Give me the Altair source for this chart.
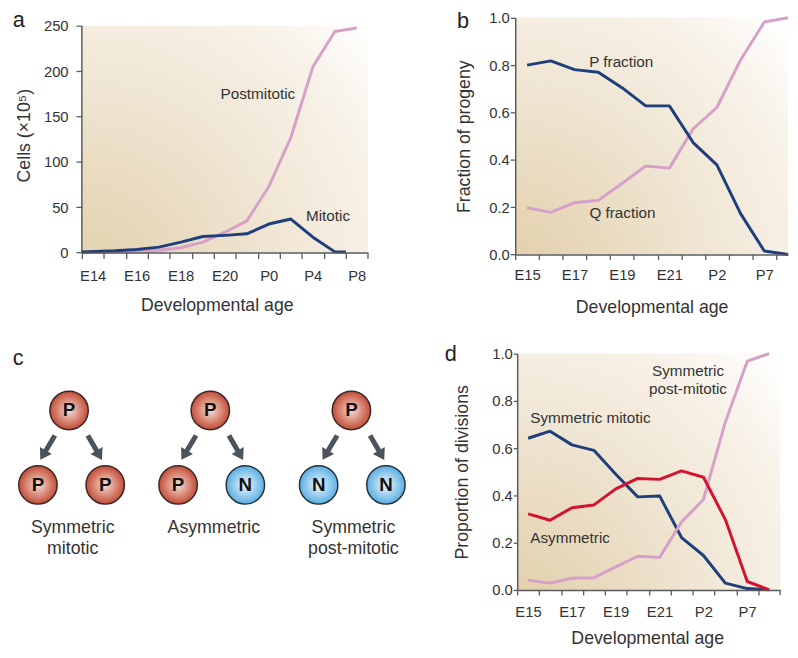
import altair as alt
import pandas as pd

FONT = "Liberation Sans"
TXT = "#333333"
AXC = "#5a5a5c"
BLUE = "#1f3e7c"
PINK = "#d6a0c8"
RED = "#d5122f"

# ---------------- panel a data ----------------
a_labels = ["E14", "", "E16", "", "E18", "", "E20", "", "P0", "", "P4", "", "P8", ""]
post_x = [0, 1.5, 2.5, 3.5, 4.5, 5.5, 6.5, 7.5, 8.5, 9.5, 10.5, 11.5, 12.5]
post_y = [0, 0.5, 1, 2.5, 5.4, 11.6, 22.5, 35, 73, 127, 205, 244, 248]
mito_x = [0, 1.5, 2.5, 3.5, 4.5, 5.5, 6.5, 7.5, 8.5, 9.5, 10.5, 11.5, 12]
mito_y = [0.7, 2, 3.5, 6, 11.6, 17.8, 19, 20.7, 31.5, 37, 17, 0.8, 0.6]

# ---------------- panel b data ----------------
b_labels = ["E15", "", "E17", "", "E19", "", "E21", "", "P2", "", "P7", ""]
b_x = [0.5, 1.5, 2.5, 3.5, 4.5, 5.5, 6.5, 7.5, 8.5, 9.5, 10.5, 11.5]
p_frac = [0.80, 0.818, 0.781, 0.77, 0.705, 0.628, 0.628, 0.473, 0.379, 0.173, 0.015, 0.0]
q_frac = [0.198, 0.178, 0.219, 0.229, 0.30, 0.374, 0.365, 0.531, 0.621, 0.822, 0.982, 1.0]

# ---------------- panel d data ----------------
d_labels = ["E15", "", "E17", "", "E19", "", "E21", "", "P2", "", "P7", ""]
d_x = [0.5, 1.5, 2.5, 3.5, 4.5, 5.5, 6.5, 7.5, 8.5, 9.5, 10.5, 11.5]
sym_mitotic = [0.642, 0.672, 0.614, 0.591, 0.49, 0.394, 0.398, 0.222, 0.146, 0.029, 0.006, 0.001]
asymmetric = [0.322, 0.295, 0.348, 0.36, 0.428, 0.472, 0.468, 0.504, 0.477, 0.298, 0.036, 0.001]
sym_postmitotic = [0.041, 0.029, 0.05, 0.052, 0.098, 0.143, 0.138, 0.288, 0.383, 0.711, 0.968, 1.0]

# ---------------- panel c diagram data ----------------
node_x = [-13.0, -44.6, 23.7, 130.4, 97.7, 166.0, 273.7, 240.4, 308.7]
node_y = [57.7, 133.3, 133.3, 57.7, 133.3, 133.3, 57.7, 133.3, 133.3]
node_kind = ["P", "P", "P", "P", "P", "N", "P", "N", "N"]
arrow_x = [-34.8, 13.2, 108.5, 156.5, 251.8, 299.8]
arrow_y = [95.5, 95.5, 95.5, 95.5, 95.5, 95.5]
arrow_angle = [31, 330, 31, 330, 31, 330]
clabel_text = ["Symmetric", "mitotic", "Asymmetric", "Symmetric", "post-mitotic"]
clabel_x = [-9.3, -9.3, 134.0, 275.7, 275.7]
clabel_y = [177.0, 198.7, 177.0, 177.0, 198.7]

BG = {
    "gradient": "radial",
    "x1": 0, "y1": 1, "r1": 0,
    "x2": 0, "y2": 1, "r2": 1.35,
    "stops": [
        {"offset": 0, "color": "#e2cfaa"},
        {"offset": 0.45, "color": "#eee3cf"},
        {"offset": 0.78, "color": "#f7f1e7"},
        {"offset": 1, "color": "#ffffff"},
    ],
}
RED_GRAD = {
    "gradient": "radial",
    "x1": 0.5, "y1": 0.5, "r1": 0, "x2": 0.5, "y2": 0.5, "r2": 0.5,
    "stops": [{"offset": 0, "color": "#f7ddd2"}, {"offset": 1, "color": "#c24c37"}],
}
BLUE_GRAD = {
    "gradient": "radial",
    "x1": 0.5, "y1": 0.5, "r1": 0, "x2": 0.5, "y2": 0.5, "r2": 0.5,
    "stops": [{"offset": 0, "color": "#f0f8fd"}, {"offset": 1, "color": "#5aaee2"}],
}
ARROW = "M-0.16,-0.9L0.16,-0.9L0.16,0.21L0.44,0.21L0,0.9L-0.44,0.21L-0.16,0.21Z"


def label_expr(labels):
    return "[" + ",".join("'" + s + "'" for s in labels) + "][datum.value]"


def x_axis(labels, label_offset, tick, pad, title_pad, title_x=None):
    kw = dict(
        values=list(range(len(labels))), labelExpr=label_expr(labels),
        labelOffset=label_offset, tickSize=tick, labelPadding=pad, grid=False,
        labelFlush=False, labelOverlap=False, domainColor=AXC, tickColor=AXC,
        domainWidth=1.5, tickWidth=1.3, labelColor=TXT, labelFont=FONT,
        labelFontSize=15, title="Developmental age", titleFont=FONT,
        titleFontSize=18, titleFontWeight="normal", titleColor=TXT,
        titlePadding=title_pad, zindex=2,
    )
    if title_x is not None:
        kw["titleX"] = title_x
    return alt.Axis(**kw)


def y_axis(values, title, tick, pad, title_pad, fmt, domain=True):
    return alt.Axis(
        values=values, format=fmt, tickSize=tick, labelPadding=pad, grid=False,
        domain=domain, domainColor=AXC, tickColor=AXC, domainWidth=1.5,
        tickWidth=1.3, labelColor=TXT, labelFont=FONT, labelFontSize=15,
        title=title, titleFont=FONT, titleFontSize=18, titleFontWeight="normal",
        titleColor=TXT, titlePadding=title_pad, zindex=2,
    )


class Panel:
    def __init__(self, xs, ys, xax, yax):
        self.xs, self.ys, self.xax, self.yax = xs, ys, xax, yax

    def X(self, f="x:Q"):
        if self.xax is None:
            return alt.X(f, scale=self.xs, axis=None)
        return alt.X(f, scale=self.xs, axis=self.xax)

    def Y(self, f="y:Q"):
        if self.yax is None:
            return alt.Y(f, scale=self.ys, axis=None)
        return alt.Y(f, scale=self.ys, axis=self.yax)

    def text(self, df, size=15, align="center", baseline="middle", weight="normal", color=TXT):
        return alt.Chart(df).mark_text(
            font=FONT, fontSize=size, align=align, baseline=baseline,
            fontWeight=weight, color=color,
        ).encode(x=self.X(), y=self.Y(), text="t:N")

    def line(self, xv, yv, color):
        df = pd.DataFrame({"x": xv, "y": yv, "o": list(range(len(xv)))})
        return alt.Chart(df).mark_line(color=color, strokeWidth=3, strokeJoin="round").encode(
            x=self.X(), y=self.Y(), order="o:Q"
        )

    def bg(self, x0, x1, y0, y1):
        df = pd.DataFrame({"x": [x0], "x2": [x1], "y": [y0], "y2": [y1]})
        return alt.Chart(df).mark_rect(fill=BG).encode(x=self.X(), x2="x2:Q", y=self.Y(), y2="y2:Q")

    def rule(self, x, y0, y1, width=1.5):
        df = pd.DataFrame({"x": [x], "y": [y0], "y2": [y1]})
        return alt.Chart(df).mark_rule(color=AXC, strokeWidth=width).encode(x=self.X(), y=self.Y(), y2="y2:Q")


# ================= panel a =================
pa = Panel(
    alt.Scale(domain=[0, 13], nice=False, zero=False),
    alt.Scale(domain=[0, 259.1], nice=False, zero=False),
    x_axis(a_labels, 11, 6, 10, 14, 137),
    y_axis([0, 50, 100, 150, 200, 250], "Cells (×10⁵)", 6, 8, 10, "d", domain=False),
)
panel_a = alt.layer(
    pa.bg(0, 13, 0, 250), pa.rule(0, 0, 250),
    pa.line(post_x, post_y, PINK),
    pa.line(mito_x, mito_y, BLUE),
    pa.text(pd.DataFrame({"x": [8.0, 11.19], "y": [174.7, 40.7], "t": ["Postmitotic", "Mitotic"]}), size=15.5),
    pa.text(pd.DataFrame({"x": [-3.147], "y": [256.5], "t": ["a"]}), size=22, align="left", baseline="middle", color="#222222"),
).properties(width=290.4, height=238.4)

# ================= panel b =================
pb = Panel(
    alt.Scale(domain=[0, 11.5], nice=False, zero=False),
    alt.Scale(domain=[0, 1], nice=False, zero=False),
    x_axis(b_labels, 12, 5, 8, 17),
    y_axis([0, 0.2, 0.4, 0.6, 0.8, 1.0], "Fraction of progeny", 5, 1, 16, ".1f"),
)
panel_b = alt.layer(
    pb.bg(0, 11.5, 0, 1),
    pb.line(b_x, q_frac, PINK),
    pb.line(b_x, p_frac, BLUE),
    pb.text(pd.DataFrame({"x": [4.47, 4.52], "y": [0.815, 0.1735], "t": ["P fraction", "Q fraction"]}), size=15.5),
    pb.text(pd.DataFrame({"x": [-2.45], "y": [0.986], "t": ["b"]}), size=22, align="left", baseline="middle", color="#222222"),
).properties(width=277, height=240.4)

# ================= panel c =================
pc = Panel(
    alt.Scale(domain=[0, 330], nice=False, zero=False),
    alt.Scale(domain=[0, 210], nice=False, zero=False, reverse=True),
    None, None,
)
nodes = pd.DataFrame({"x": node_x, "y": node_y, "t": node_kind})
arrows = pd.DataFrame({"x": arrow_x, "y": arrow_y, "a": arrow_angle})
c_arrows = alt.Chart(arrows).mark_point(shape=ARROW, size=1024, filled=True, color="#4b545c", opacity=1).encode(
    x=pc.X(), y=pc.Y(), angle=alt.Angle("a:Q", scale=None),
)
c_red = alt.Chart(nodes).transform_filter("datum.t == 'P'").mark_point(
    shape="circle", size=1521, filled=True, fill=RED_GRAD, stroke="#3a2826", strokeWidth=1.5, opacity=1
).encode(x=pc.X(), y=pc.Y())
c_blue = alt.Chart(nodes).transform_filter("datum.t == 'N'").mark_point(
    shape="circle", size=1521, filled=True, fill=BLUE_GRAD, stroke="#26323a", strokeWidth=1.5, opacity=1
).encode(x=pc.X(), y=pc.Y())
panel_c = alt.layer(
    c_arrows, c_red, c_blue,
    pc.text(nodes, size=19, weight="bold", color="#111111"),
    pc.text(pd.DataFrame({"x": clabel_x, "y": clabel_y, "t": clabel_text}), size=18),
    pc.text(pd.DataFrame({"x": [-70.3], "y": [4.7], "t": ["c"]}), size=22, align="left", baseline="middle", color="#222222"),
).properties(width=330, height=210)

# ================= panel d =================
pd_ = Panel(
    alt.Scale(domain=[0, 12], nice=False, zero=False),
    alt.Scale(domain=[0, 1], nice=False, zero=False),
    x_axis(d_labels, 11, 5, 10, 10, 132),
    y_axis([0, 0.2, 0.4, 0.6, 0.8, 1.0], "Proportion of divisions", 4, 1, 21, ".1f"),
)
panel_d = alt.layer(
    pd_.bg(0, 12, 0, 1),
    pd_.rule(12, 0, -0.021, width=1.3),
    pd_.line(d_x, sym_mitotic, BLUE),
    pd_.line(d_x, sym_postmitotic, PINK),
    pd_.line(d_x, asymmetric, RED),
    pd_.text(pd.DataFrame({"x": [7.795, 7.795], "y": [0.9244, 0.8488], "t": ["Symmetric", "post-mitotic"]}), size=15.5),
    pd_.text(pd.DataFrame({"x": [0.597, 0.597], "y": [0.7273, 0.2178], "t": ["Symmetric mitotic", "Asymmetric"]}), size=15.5, align="left"),
    pd_.text(pd.DataFrame({"x": [-3.31], "y": [0.996], "t": ["d"]}), size=22, align="left", baseline="middle", color="#222222"),
).properties(width=267, height=240)

row1 = alt.hconcat(panel_a, panel_b, spacing=77)
row2 = alt.hconcat(panel_c, panel_d, spacing=36)
chart = alt.vconcat(row1, row2, spacing=26).properties(
    padding={"left": 4, "top": -4, "right": 0, "bottom": 0}
).configure(background="#ffffff").configure_view(strokeWidth=0)

chart.save("out.html", embed_options={"renderer": "svg", "actions": False})
